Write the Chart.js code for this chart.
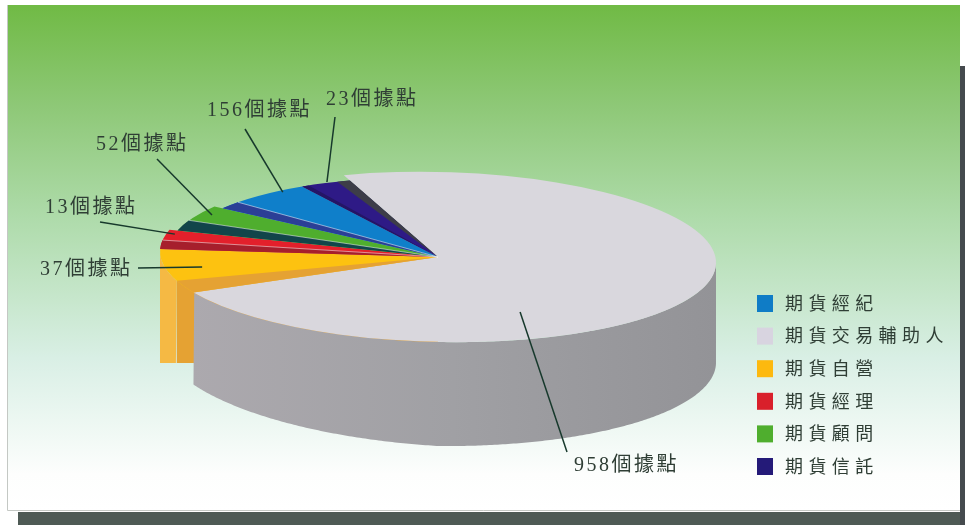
<!DOCTYPE html>
<html>
<head>
<meta charset="utf-8">
<style>
  html, body { margin: 0; padding: 0; background: #fff; }
  canvas { display: block; }
</style>
<script src="https://cdn.jsdelivr.net/npm/chart.js@4"></script>
</head>
<body>
<canvas id="myChart" width="965" height="525"></canvas>
<script>
// slices run clockwise as drawn in the picture
const categories = ["期貨自營", "期貨經理", "期貨顧問", "期貨經紀", "期貨信託", "期貨交易輔助人"];
// the printed counts
const printedCounts = [37, 13, 52, 156, 23, 958];
// the picture does not draw wedges in proportion to its counts, so slice sizes are
// the angles (degrees) and the counts only go in the callouts
const measuredAngles = [30.1, 13.3, 19, 24.5, 11.7, 261.4];
const legendOrder = [3, 5, 0, 1, 2, 4];

const topColors = ["#fdc210", "#e3202b", "#4fae2e", "#0f7fca", "#2e1a86", "#d9d7dd"];
const legendColors = ["#fdb90f", "#d9202b", "#4fae2e", "#0f7cc6", "#241a78", "#d8d4e0"];
const sideColors = ["#e5a233", "#a61f2c", "#12454a", "#2b3f96", "#241566", "#9c9ca0"];
const sideAngles = [8.4, 6, 7.6, 5.7, 1.7, 0];
const sliceReach = [1, 1, 0.97, 0.935, 0.935, 1];

const center = { x: 438, y: 257 };
const radiusX = 278;
const radiusY = 85;
const shear = 0.02;
const yellowBottom = 363;
const ink = "#2f3e35";
const lineInk = "#17392c";

// [slice, angle fraction, radius fraction, line start x, y, text x, y]
const callouts = [
  [0, 0.56, 0.866, 138, 268, 40, 270],
  [1, 0.8, 0.969, 100, 222, 45, 208],
  [2, 0.71, 0.925, 157, 159, 96, 145],
  [3, 0.755, 0.917, 245, 129, 207, 111],
  [4, 0.555, 0.945, 335, 117, 326, 100],
  [5, 0.668, 0.694, 567, 452, 574, 466],
];

function rimPoint(angle, r) {
  const dx = radiusX * r * Math.cos(angle);
  return [center.x + dx, center.y + shear * dx + radiusY * r * Math.sin(angle)];
}

// the rim gets a little shallower towards the left end
function grayDepth(a) {
  if (a < Math.PI / 2) return 100 + 4 * a / (Math.PI / 2);
  return 104 - 14 * (a - Math.PI / 2) / (Math.PI * 0.4);
}

function drawWall(ctx, from, to, bottomOf, fill) {
  ctx.beginPath();
  for (let a = from; a < to; a += 0.01) {
    const p = rimPoint(a, 1);
    ctx.lineTo(p[0], p[1]);
  }
  for (let a = to; a > from; a -= 0.01) {
    const p = rimPoint(a, 1);
    ctx.lineTo(p[0], bottomOf(a, p[1]));
  }
  ctx.closePath();
  ctx.fillStyle = fill;
  ctx.fill();
}

const pie3d = {
  id: "pie3d",
  afterDatasetsUpdate(chart) {
    chart.getDatasetMeta(0).data.forEach((arc, i) => {
      arc.outerRadius = radiusX * sliceReach[i];
    });
  },
  beforeDraw(chart) {
    const ctx = chart.ctx;
    ctx.save();
    ctx.fillStyle = "#4e5a55";
    ctx.fillRect(18, 512, 947, 13);
    ctx.fillStyle = "#454a4e";
    ctx.fillRect(960, 66, 5, 459);
    const bg = ctx.createLinearGradient(0, 5, 0, 510);
    bg.addColorStop(0, "#70ba45");
    bg.addColorStop(0.2, "#8ec877");
    bg.addColorStop(0.42, "#aedbaa");
    bg.addColorStop(0.7, "#d9efe5");
    bg.addColorStop(0.93, "#fdfefd");
    bg.addColorStop(1, "#ffffff");
    ctx.fillStyle = bg;
    ctx.fillRect(7, 5, 953, 506);
    ctx.strokeStyle = "#c4c8c4";
    ctx.beginPath();
    ctx.moveTo(7.5, 5);
    ctx.lineTo(7.5, 510.5);
    ctx.lineTo(960, 510.5);
    ctx.stroke();
    ctx.restore();
  },
  beforeDatasetsDraw(chart) {
    const ctx = chart.ctx;
    const arcs = chart.getDatasetMeta(0).data;
    const rad = Math.PI / 180;

    // yellow slice: cut face, then rim, both down to a flat bottom
    const yellowEdge = arcs[0].startAngle + sideAngles[0] * rad + 2 * Math.PI;
    const e = rimPoint(yellowEdge, 1);
    ctx.fillStyle = sideColors[0];
    ctx.beginPath();
    ctx.moveTo(center.x, center.y);
    ctx.lineTo(e[0], e[1]);
    ctx.lineTo(e[0], yellowBottom);
    ctx.lineTo(center.x, yellowBottom);
    ctx.closePath();
    ctx.fill();
    drawWall(ctx, yellowEdge, Math.PI, () => yellowBottom, "#f5b944");

    // big slice rim
    const wall = ctx.createLinearGradient(190, 0, 716, 0);
    wall.addColorStop(0, "#aca9ae");
    wall.addColorStop(0.5, "#a0a0a4");
    wall.addColorStop(1, "#939397");
    drawWall(ctx, 0, arcs[5].endAngle, (a, y) => y + grayDepth(a), wall);

    ctx.save();
    ctx.translate(center.x, center.y);
    ctx.transform(1, shear, 0, radiusY / radiusX, 0, 0);
    ctx.translate(-arcs[0].x, -arcs[0].y);
  },
  afterDatasetsDraw(chart) {
    const ctx = chart.ctx;
    const arcs = chart.getDatasetMeta(0).data;
    const rad = Math.PI / 180;
    arcs.forEach((arc, i) => {
      if (!sideAngles[i]) return;
      ctx.fillStyle = sideColors[i];
      ctx.beginPath();
      ctx.moveTo(arc.x, arc.y);
      ctx.arc(arc.x, arc.y, arc.outerRadius, arc.startAngle, arc.startAngle + sideAngles[i] * rad);
      ctx.closePath();
      ctx.fill();
    });
    // dark sliver between the trust slice and the big slice
    ctx.fillStyle = "#3d3d48";
    ctx.beginPath();
    ctx.moveTo(arcs[4].x, arcs[4].y);
    ctx.arc(arcs[4].x, arcs[4].y, arcs[4].outerRadius, arcs[4].endAngle - 3 * rad, arcs[4].endAngle);
    ctx.closePath();
    ctx.fill();
    ctx.restore();

    // light hairline where a slice top meets its dark side
    ctx.save();
    ctx.strokeStyle = "rgba(255,255,255,0.5)";
    ctx.lineWidth = 1;
    [1, 2, 3].forEach((i) => {
      const p = rimPoint(arcs[i].startAngle + sideAngles[i] * rad, sliceReach[i]);
      ctx.beginPath();
      ctx.moveTo(center.x, center.y);
      ctx.lineTo(p[0], p[1]);
      ctx.stroke();
    });
    ctx.restore();
  },
  afterDraw(chart) {
    const ctx = chart.ctx;
    const arcs = chart.getDatasetMeta(0).data;
    ctx.save();

    // callouts
    ctx.textBaseline = "middle";
    ctx.textAlign = "left";
    callouts.forEach(([i, af, rf, lx, ly, tx, ty]) => {
      const a = arcs[i].startAngle + (arcs[i].endAngle - arcs[i].startAngle) * af;
      const p = rimPoint(a, rf);
      ctx.strokeStyle = lineInk;
      ctx.lineWidth = 1.5;
      ctx.beginPath();
      ctx.moveTo(lx, ly);
      ctx.lineTo(p[0], p[1]);
      ctx.stroke();
      ctx.fillStyle = ink;
      ctx.font = '20px "Liberation Serif", "Noto Sans CJK TC"';
      ctx.letterSpacing = "2.5px";
      ctx.fillText(printedCounts[i] + "個據點", tx, ty);
    });

    // legend
    ctx.font = '18px "Noto Sans CJK TC"';
    ctx.letterSpacing = "5.4px";
    legendOrder.forEach((i, row) => {
      const y = 303 + row * 32.6;
      ctx.fillStyle = legendColors[i];
      ctx.fillRect(757, y - 8, 16, 17);
      ctx.fillStyle = ink;
      ctx.fillText(categories[i], 785, y);
    });
    ctx.restore();
  },
};

new Chart("myChart", {
  type: "pie",
  data: {
    labels: categories,
    datasets: [{
      data: measuredAngles,
      backgroundColor: topColors,
      borderWidth: 0,
      clip: false,
    }],
  },
  options: {
    responsive: false,
    animation: false,
    radius: radiusX,
    rotation: -118.4,
    plugins: {
      legend: { display: false },
      tooltip: { enabled: false },
    },
  },
  plugins: [pie3d],
});
</script>
</body>
</html>
